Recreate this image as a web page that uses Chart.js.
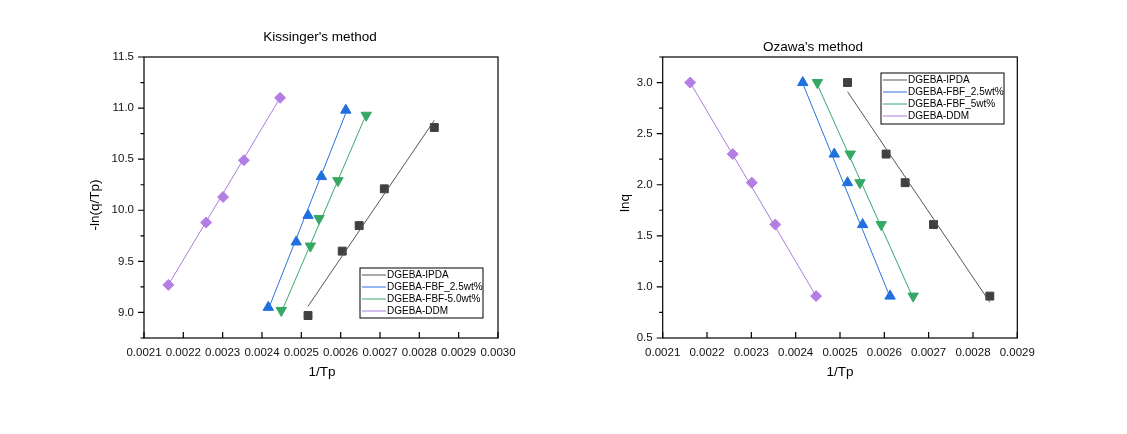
<!DOCTYPE html>
<html>
<head>
<meta charset="utf-8">
<script src="https://cdn.jsdelivr.net/npm/chart.js@4.4.0/dist/chart.umd.min.js"></script>
<style>
  html, body { margin: 0; padding: 0; background: #fff; }
  #wrap { position: relative; width: 1127px; height: 434px; }
  .box { position: absolute; top: 0; }
</style>
</head>
<body>
<div id="wrap">
  <div class="box" style="left:0"><canvas id="kis" width="563" height="434"></canvas></div>
  <div class="box" style="left:563px"><canvas id="oza" width="564" height="434"></canvas></div>
</div>
<script>
// series names
const kisNames = ['DGEBA-IPDA', 'DGEBA-FBF_2.5wt%', 'DGEBA-FBF-5.0wt%', 'DGEBA-DDM']
const ozaNames = ['DGEBA-IPDA', 'DGEBA-FBF_2.5wt%', 'DGEBA-FBF_5wt%', 'DGEBA-DDM']

// 1/Tp for each system (heating rates high -> low)
const invTpIPDA = [0.002517, 0.002604, 0.002647, 0.002711, 0.002838]
const invTpFBF25 = [0.002416, 0.002487, 0.002517, 0.002551, 0.002613]
const invTpFBF50 = [0.002449, 0.002523, 0.002545, 0.002593, 0.002665]
const invTpDDM = [0.002162, 0.002258, 0.002301, 0.002354, 0.002446]

// Kissinger: -ln(q/Tp)
const kisIPDA = [8.97, 9.60, 9.85, 10.21, 10.81]
const kisFBF25 = [9.05, 9.69, 9.95, 10.33, 10.98]
const kisFBF50 = [9.02, 9.65, 9.92, 10.29, 10.93]
const kisDDM = [9.27, 9.88, 10.13, 10.49, 11.10]

// Ozawa: ln q (same heating rates for every system)
const lnq = [3.00, 2.30, 2.02, 1.61, 0.91]

// fitted line values at first / last 1/Tp
const kisFitIPDA = [9.06, 10.88]
const kisFitFBF25 = [9.03, 10.95]
const kisFitFBF50 = [9.00, 10.94]
const kisFitDDM = [9.27, 11.10]
const ozaFitIPDA = [2.91, 0.85]
const ozaFitFBF25 = [2.99, 0.90]
const ozaFitFBF50 = [2.98, 0.89]
const ozaFitDDM = [3.00, 0.91]

// ticks
const kisXTicks = [0.0021, 0.0022, 0.0023, 0.0024, 0.0025, 0.0026, 0.0027, 0.0028, 0.0029, 0.0030]
const kisYTicks = [9.0, 9.5, 10.0, 10.5, 11.0, 11.5]
const kisYMinor = [8.75, 9.25, 9.75, 10.25, 10.75, 11.25]
const ozaXTicks = [0.0021, 0.0022, 0.0023, 0.0024, 0.0025, 0.0026, 0.0027, 0.0028, 0.0029]
const ozaYTicks = [0.5, 1.0, 1.5, 2.0, 2.5, 3.0]
const ozaYMinor = [0.75, 1.25, 1.75, 2.25, 2.75, 3.25]

const colors = ['#404040', '#1f6fe0', '#34a865', '#b57ee5']
const lineColors = ['#555555', '#2a72dc', '#3aa86a', '#a97ddd']
const markers = [
  { style: 'rect', radius: 5.6, rotation: 0 },
  { style: 'triangle', radius: 6, rotation: 0 },
  { style: 'triangle', radius: 6, rotation: 180 },
  { style: 'rectRot', radius: 5.5, rotation: 0 }
]

const FONT = 'Arial, "Liberation Sans", sans-serif'

function pts(xs, ys) {
  return xs.map((x, i) => ({ x: x, y: ys[i] }))
}

function fit(xs, ends) {
  return [{ x: xs[0], y: ends[0] }, { x: xs[xs.length - 1], y: ends[1] }]
}

function buildDatasets(names, xsList, ysList, fitList) {
  const out = []
  xsList.forEach((xs, i) => {
    out.push({
      label: names[i],
      data: fit(xs, fitList[i]),
      showLine: true,
      borderColor: lineColors[i],
      borderWidth: 1,
      pointRadius: 0,
      pointHoverRadius: 0
    })
  })
  xsList.forEach((xs, i) => {
    out.push({
      label: '',
      data: pts(xs, ysList[i]),
      showLine: false,
      pointStyle: markers[i].style,
      pointRadius: markers[i].radius,
      pointRotation: markers[i].rotation,
      pointBackgroundColor: colors[i],
      pointBorderColor: colors[i],
      pointBorderWidth: 1
    })
  })
  return out
}

const decor = {
  id: 'decor',
  afterDraw(chart, args, o) {
    const ctx = chart.ctx
    const a = chart.chartArea
    const xs = chart.scales.x
    const ys = chart.scales.y
    ctx.save()
    ctx.strokeStyle = '#000'
    ctx.lineWidth = 1.2
    ctx.strokeRect(a.left, a.top, a.right - a.left, a.bottom - a.top)

    ctx.beginPath()
    xs.ticks.forEach(t => {
      const px = xs.getPixelForValue(t.value)
      ctx.moveTo(px, a.bottom)
      ctx.lineTo(px, a.bottom - 6)
    })
    ys.ticks.forEach(t => {
      const py = ys.getPixelForValue(t.value)
      ctx.moveTo(a.left, py)
      ctx.lineTo(a.left - 6, py)
    })
    o.minor.forEach(v => {
      const py = ys.getPixelForValue(v)
      ctx.moveTo(a.left, py)
      ctx.lineTo(a.left - 3.5, py)
    })
    ctx.stroke()

    ctx.fillStyle = '#000'
    ctx.textAlign = 'center'
    ctx.textBaseline = 'middle'
    ctx.font = '13.5px ' + FONT
    ctx.fillText(o.title, o.titleX, o.titleY)
    ctx.fillText('1/Tp', o.xTitleX, o.xTitleY)
    ctx.save()
    ctx.translate(o.yTitleX, o.yTitleY)
    ctx.rotate(-Math.PI / 2)
    ctx.fillText(o.yTitle, 0, 0)
    ctx.restore()

    // legend
    const L = o.legend
    ctx.lineWidth = 1
    ctx.strokeRect(L.x, L.y, L.w, L.h)
    ctx.font = '10px ' + FONT
    ctx.textAlign = 'left'
    chart.data.datasets.forEach((ds, i) => {
      if (!ds.label) return
      const y = L.y + 7 + i * 12
      ctx.strokeStyle = ds.borderColor
      ctx.beginPath()
      ctx.moveTo(L.x + 2, y)
      ctx.lineTo(L.x + 26, y)
      ctx.stroke()
      ctx.fillStyle = '#000'
      ctx.fillText(ds.label, L.x + 27, y)
    })
    ctx.restore()
  }
}

function makeChart(id, cfg) {
  return new Chart(document.getElementById(id), {
    type: 'scatter',
    data: { datasets: cfg.datasets },
    options: {
      responsive: false,
      animation: false,
      events: [],
      layout: { padding: { left: 0, top: 57, right: cfg.padRight, bottom: 0 } },
      plugins: {
        legend: { display: false },
        tooltip: { enabled: false },
        decor: cfg.decor
      },
      scales: {
        x: {
          type: 'linear',
          min: cfg.xTicks[0],
          max: cfg.xTicks[cfg.xTicks.length - 1],
          afterBuildTicks: s => { s.ticks = cfg.xTicks.map(v => ({ value: v })) },
          afterFit: s => { s.height = 96 },
          grid: { display: false, drawTicks: false, tickLength: 0 },
          border: { display: false },
          ticks: {
            padding: 8,
            maxRotation: 0,
            autoSkip: false,
            color: '#111',
            font: { family: FONT, size: 11.5 },
            callback: v => Number(v).toFixed(4)
          }
        },
        y: {
          type: 'linear',
          min: cfg.yMin,
          max: cfg.yMax,
          afterBuildTicks: s => { s.ticks = cfg.yTicks.map(v => ({ value: v })) },
          afterFit: s => { s.width = cfg.yWidth },
          grid: { display: false, drawTicks: false, tickLength: 0 },
          border: { display: false },
          ticks: {
            padding: 10,
            autoSkip: false,
            color: '#111',
            font: { family: FONT, size: 11.5 },
            callback: v => Number(v).toFixed(1)
          }
        }
      }
    },
    plugins: [decor]
  })
}

makeChart('kis', {
  datasets: buildDatasets(kisNames,
    [invTpIPDA, invTpFBF25, invTpFBF50, invTpDDM],
    [kisIPDA, kisFBF25, kisFBF50, kisDDM],
    [kisFitIPDA, kisFitFBF25, kisFitFBF50, kisFitDDM]),
  xTicks: kisXTicks,
  yTicks: kisYTicks,
  yMin: 8.75,
  yMax: 11.5,
  yWidth: 144,
  padRight: 65,
  decor: {
    minor: kisYMinor,
    title: "Kissinger's method", titleX: 320, titleY: 37,
    xTitleX: 322, xTitleY: 372,
    yTitle: '-ln(q/Tp)', yTitleX: 95, yTitleY: 205,
    legend: { x: 360, y: 268, w: 123, h: 50 }
  }
})

makeChart('oza', {
  datasets: buildDatasets(ozaNames,
    [invTpIPDA, invTpFBF25, invTpFBF50, invTpDDM],
    [lnq, lnq, lnq, lnq],
    [ozaFitIPDA, ozaFitFBF25, ozaFitFBF50, ozaFitDDM]),
  xTicks: ozaXTicks,
  yTicks: ozaYTicks,
  yMin: 0.5,
  yMax: 3.25,
  yWidth: 99.7,
  padRight: 109.7,
  decor: {
    minor: ozaYMinor,
    title: "Ozawa's method", titleX: 250, titleY: 47,
    xTitleX: 277, xTitleY: 372,
    yTitle: 'lnq', yTitleX: 62, yTitleY: 203,
    legend: { x: 318, y: 73, w: 123, h: 51 }
  }
})
</script>
</body>
</html>
